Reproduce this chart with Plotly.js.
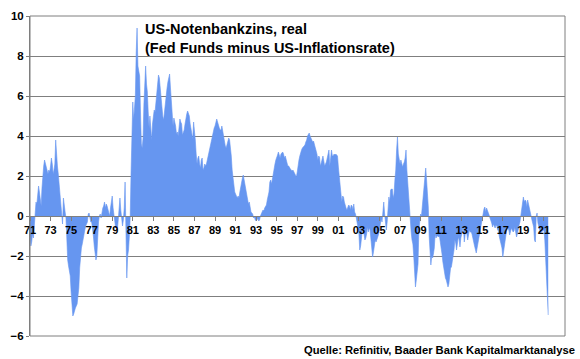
<!DOCTYPE html>
<html>
<head>
<meta charset="utf-8">
<script src="https://cdn.plot.ly/plotly-3.0.1.min.js"></script>
<style>html,body{margin:0;padding:0;background:#fff;}#chart{width:580px;height:359px;}</style>
</head>
<body>
<div id="chart"></div>
<script>
// Monthly real US Fed Funds rate (Fed Funds minus CPI inflation), in %, starting Jan 1971
var startYear = 1971;
var real1970s = [
  -1.0, -1.5, -1.3, -0.9, -1.1, -0.4, 0.5, 0.7, 0.6, 1.0, 1.5, 1.2,
  0.7, 0.5, 1.4, 2.3, 2.5, 2.8, 2.6, 2.4, 2.2, 2.1, 2.3, 2.2,
  2.5, 2.9, 2.6, 2.1, 2.3, 2.6, 3.8, 2.9, 2.5, 2.1, 1.6, 1.3,
  0.8, 0.3, -0.4, 0.9, 0.3, 0.2, -0.1, -1.5, -2.2, -2.5, -2.7, -3.0,
  -3.8, -4.5, -5.0, -4.9, -4.7, -4.6, -4.5, -4.4, -4.0, -3.6, -2.6, -2.0,
  -1.6, -1.4, -1.1, -0.9, -0.7, -0.5, -0.4, -0.3, 0.1, 0.15, -0.1, -0.3,
  -0.3, -0.6, -1.0, -1.5, -2.0, -2.2, -2.0, -0.8, -0.3, 0.0, 0.1, -0.1,
  0.2, 0.4, 0.5, 0.7, 0.4, 0.6, 0.5, 0.3, 0.1, 0.0, 0.4, 0.7,
  1.0, 0.4, 0.1, -0.3, -0.6, -0.5, -0.7, -0.2, 0.3, 0.9, 0.3, -0.3
];
var real1980s = [
  -0.5, -0.2, 0.4, 1.7, -1.2, -3.1, -2.0, -1.7, -1.0, 0.0, 2.2, 4.5,
  5.7, 4.8, 5.3, 6.0, 8.2, 9.4, 7.5, 7.2, 7.0, 5.2, 3.6, 3.4,
  3.9, 5.6, 6.8, 7.5, 6.6, 6.2, 5.2, 4.4, 5.0, 4.5, 3.8, 4.6,
  5.0, 5.3, 5.2, 5.6, 6.2, 6.6, 7.05, 6.9, 6.4, 5.8, 5.3, 5.0,
  4.8, 5.3, 5.7, 6.2, 6.4, 6.7, 6.9, 7.1, 6.4, 5.6, 5.0, 4.5,
  4.9, 4.7, 4.5, 4.1, 4.2, 4.0, 4.4, 4.85, 4.7, 4.6, 4.05, 4.2,
  4.3, 4.6, 5.0, 5.1, 5.25, 5.1, 5.0, 4.6, 4.35, 4.0, 3.85, 4.7,
  4.3, 3.8, 3.1, 2.6, 2.9, 3.0, 2.6, 2.4, 2.8, 2.9, 2.3, 2.4,
  2.6, 2.5, 2.6, 2.8, 3.0, 3.2, 3.4, 3.7, 3.9, 4.1, 4.2, 4.4,
  4.5, 4.7, 4.85, 4.7, 4.5, 4.4, 4.3, 4.3, 4.5, 4.2, 3.9, 3.8
];
var real1990s = [
  3.5, 3.4, 3.6, 3.8, 3.9, 3.8, 3.5, 3.0, 2.3, 1.8, 1.5, 1.2,
  1.1, 0.95, 0.9, 1.0, 0.9, 1.2, 1.5, 1.8, 1.9, 2.05, 1.8, 1.4,
  1.3, 1.1, 0.8, 0.6, 0.7, 0.4, 0.2, 0.15, 0.1, -0.1, -0.05, -0.2,
  -0.25, -0.2, -0.1, -0.25, -0.2, 0.0, 0.15, 0.2, 0.3, 0.25, 0.4, 0.5,
  0.55, 0.8, 1.05, 1.2, 1.7, 1.8, 1.6, 1.9, 2.1, 2.3, 2.6, 2.8,
  2.9, 3.05, 3.2, 3.0, 2.9, 3.1, 3.15, 3.2, 3.1, 2.9, 3.0, 2.8,
  2.65, 2.5, 2.5, 2.4, 2.35, 2.3, 2.25, 2.3, 2.2, 2.15, 2.0, 1.95,
  2.2, 2.65, 2.8, 3.0, 3.2, 3.3, 3.4, 3.45, 3.5, 3.55, 3.7, 3.8,
  4.0, 4.1, 4.15, 4.0, 3.9, 3.85, 3.7, 3.75, 3.6, 3.45, 3.2, 3.1,
  2.8, 3.0, 2.95, 2.5, 2.65, 2.9, 3.0, 2.75, 2.5, 2.6, 2.7, 2.9
];
var real2000s = [
  3.2, 3.3, 2.5, 3.2, 3.3, 3.0, 3.0, 3.1, 3.05, 3.1, 3.05, 3.0,
  2.45, 2.0, 1.9, 1.3, 0.7, 1.0, 0.95, 0.7, 0.5, 0.4, 0.3, 0.4,
  0.55, 0.5, 0.3, 0.55, 0.5, 0.3, 0.6, 0.2, 0.1, -0.1, -0.3, -0.6,
  -0.9, -1.7, -1.5, -1.05, -0.7, -0.8, -0.9, -1.2, -1.1, -0.9, -0.55, -0.8,
  -0.6, -0.7, -1.05, -1.5, -2.05, -1.8, -1.55, -1.2, -1.3, -1.2, -1.05, -0.9,
  -0.7, -0.4, -0.15, -0.3, 0.3, 0.7, 0.1, -0.2, -0.7, -0.3, 0.45, 0.95,
  0.7, 1.3, 1.35, 1.35, 0.9, 1.1, 1.8, 2.3, 3.3, 3.95, 3.1, 2.8,
  2.6, 2.8, 2.5, 2.45, 2.6, 2.7, 2.9, 3.3, 2.3, 1.6, 0.95, 0.3,
  -0.3, -0.8, -1.2, -1.4, -2.0, -2.8, -3.55, -3.2, -2.7, -2.4, -0.7, 0.0,
  0.1, 0.0, 0.45, 0.8, 1.45, 1.6, 2.4, 1.8, 1.3, 0.45, -1.0, -2.0
];
var real2010s = [
  -2.45, -2.0, -2.1, -1.9, -1.6, -0.9, -1.1, -1.0, -1.0, -1.05, -1.0, -1.3,
  -1.55, -1.9, -2.3, -2.6, -2.9, -3.1, -3.2, -3.4, -3.55, -3.4, -2.9, -2.6,
  -2.55, -2.3, -2.05, -1.7, -1.2, -1.35, -1.7, -1.4, -1.05, -1.2, -1.55, -1.1,
  -0.95, -0.8, -0.55, -1.3, -0.95, -0.6, -0.9, -1.2, -0.95, -0.7, -0.8, -0.8,
  -0.9, -1.05, -1.3, -1.5, -1.7, -1.85, -1.6, -1.35, -1.0, -0.7, -0.5, -0.35,
  0.0, 0.3, 0.35, 0.45, 0.2, 0.4, 0.3, 0.15, 0.05, -0.1, -0.2, -0.35,
  -0.55, -0.4, -0.5, -0.6, -0.45, -0.5, -0.7, -0.75, -1.05, -1.2, -1.35, -1.6,
  -2.05, -1.7, -1.3, -1.05, -0.8, -0.55, -0.6, -0.7, -0.95, -0.8, -0.6, -0.7,
  -0.8, -0.75, -0.55, -0.8, -1.05, -0.9, -0.55, -0.45, -0.3, 0.05, 0.4, 0.65,
  0.95, 0.7, 0.8, 0.75, 0.45, 0.8, 0.55, 0.35, 0.2, 0.0, -0.2, -0.4
];
var real2020s = [
  -0.55, -1.2, -1.3, 0.0, 0.15, -0.35, -0.55, -0.7, -0.85, -0.8, -0.75, -0.7,
  -0.7, -1.2, -2.05, -3.0, -4.2, -4.95
];
var tickYears = [1971,1973,1975,1977,1979,1981,1983,1985,1987,1989,1991,1993,1995,1997,1999,2001,2003,2005,2007,2009,2011,2013,2015,2017,2019,2021];
var tickLabels = ['71','73','75','77','79','81','83','85','87','89','91','93','95','97','99','01','03','05','07','09','11','13','15','17','19','21'];
var titleText = 'US-Notenbankzins, real<br>(Fed Funds minus US-Inflationsrate)';
var sourceText = 'Quelle: Refinitiv, Baader Bank Kapitalmarktanalyse';

var values = [].concat(real1970s, real1980s, real1990s, real2000s, real2010s, real2020s);
var months = values.map(function(v, i){ return startYear + i / 12; });

var fontFam = 'Liberation Sans, Arial, sans-serif';
var trace = {
  x: months, y: values, type: 'scatter', mode: 'lines',
  fill: 'tozeroy', fillcolor: 'rgb(102,150,240)',
  line: {color: 'rgb(102,150,240)', width: 0.6},
  hoverinfo: 'skip'
};
var layout = {
  width: 580, height: 359,
  margin: {l: 30, r: 15, t: 16, b: 23, pad: 0},
  paper_bgcolor: '#ffffff', plot_bgcolor: '#ffffff',
  showlegend: false,
  xaxis: {
    range: [1971, 2023.05], anchor: 'free', position: 0.375,
    showgrid: false, zeroline: false, showline: true, linecolor: '#7f7f7f', linewidth: 1,
    ticks: 'outside', ticklen: 4, tickcolor: '#7f7f7f',
    tickmode: 'array', tickvals: tickYears, ticktext: tickLabels,
    tickfont: {family: fontFam, size: 11, color: '#000', weight: 'bold'}
  },
  yaxis: {
    range: [-6, 10], dtick: 2, tick0: 0,
    showgrid: true, gridcolor: '#7f7f7f', gridwidth: 1,
    zeroline: false, showline: true, linecolor: '#7f7f7f', linewidth: 1,
    ticks: 'outside', ticklen: 3, tickcolor: '#7f7f7f',
    tickfont: {family: fontFam, size: 11.5, color: '#000', weight: 'bold'}
  },
  shapes: [{type: 'rect', xref: 'paper', yref: 'paper', x0: 0, x1: 1, y0: 0, y1: 1,
            line: {color: '#7f7f7f', width: 1}, layer: 'above'}],
  annotations: [
    {xref: 'paper', yref: 'paper', x: 0.211, y: 0.992, xanchor: 'left', yanchor: 'top', align: 'left',
     showarrow: false, text: titleText,
     font: {family: fontFam, size: 14.5, color: '#000', weight: 'bold'}},
    {xref: 'paper', yref: 'paper', x: 1.0224, y: -0.044, xanchor: 'right', yanchor: 'middle',
     showarrow: false, text: sourceText,
     font: {family: fontFam, size: 11.2, color: '#000', weight: 'bold'}}
  ]
};
Plotly.newPlot('chart', [trace], layout, {staticPlot: true, displayModeBar: false});
</script>
</body>
</html>
